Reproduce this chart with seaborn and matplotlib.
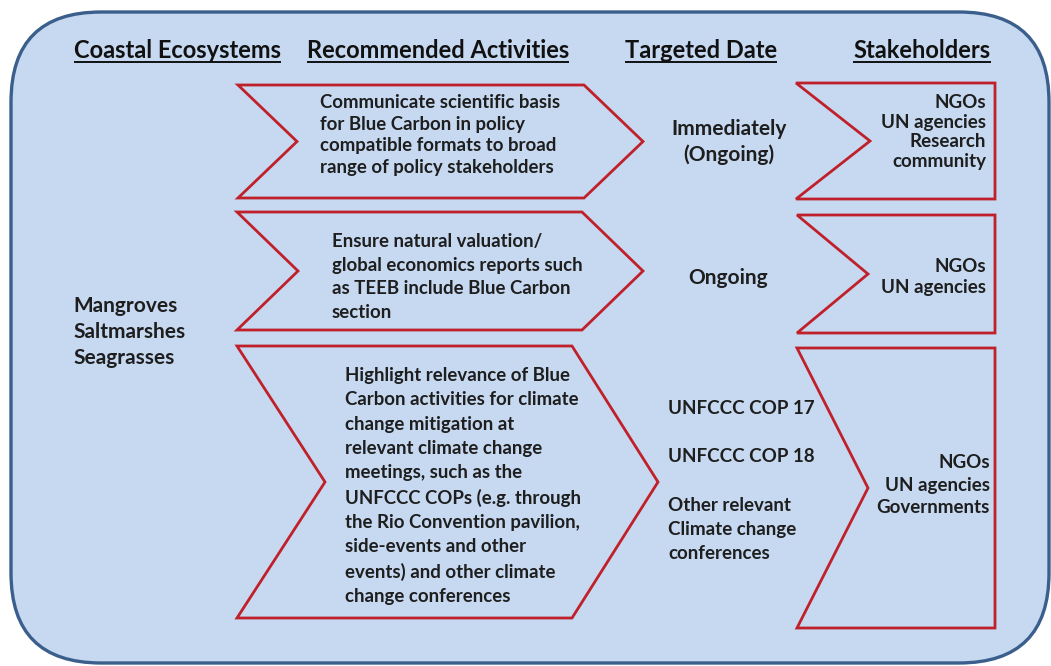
import matplotlib
matplotlib.use("Agg")
import matplotlib.pyplot as plt
import seaborn as sns
from matplotlib.patches import FancyBboxPatch, Polygon

# Text content of the diagram
headers = ["Coastal Ecosystems", "Recommended Activities", "Targeted Date", "Stakeholders"]
ecosystems = ["Mangroves", "Saltmarshes", "Seagrasses"]
activities = [
    ["Communicate scientific basis", "for Blue Carbon in policy",
     "compatible formats to broad", "range of policy stakeholders"],
    ["Ensure natural valuation/", "global economics reports such",
     "as TEEB include Blue Carbon", "section"],
    ["Highlight relevance of Blue", "Carbon activities for climate",
     "change mitigation at", "relevant climate change",
     "meetings, such as the", "UNFCCC COPs (e.g. through",
     "the Rio Convention pavilion,", "side-events and other",
     "events) and other climate", "change conferences"],
]
dates = [
    ["Immediately", "(Ongoing)"],
    ["Ongoing"],
    ["UNFCCC COP 17", "", "UNFCCC COP 18", "", "Other relevant",
     "Climate change", "conferences"],
]
stakeholders = [
    ["NGOs", "UN agencies", "Research", "community"],
    ["NGOs", "UN agencies"],
    ["NGOs", "UN agencies", "Governments"],
]

# Layout (pixel coordinates, y downwards)
header_x = [177, 438, 701, 922]
header_y = 50
act_rows = [  # top, bottom, left, notch, right corner, tip
    (85, 198, 238, 297, 584, 643),
    (212, 330, 237, 298, 582, 643),
    (346, 618, 237, 325, 572, 658),
]
act_text = [(320, 135, 1.32), (332, 277, 1.46), (345, 486, 1.51)]
stake_rows = [  # top, bottom, left, notch, right
    (83, 199, 796, 870, 995),
    (215, 333, 797, 868, 995),
    (348, 628, 797, 868, 995),
]
stake_text = [(986, 132, 1.17), (986, 277, 1.29), (990, 485, 1.41)]
date_text = [(729, 142, "center", 15, 1.38), (728, 278, "center", 15, 1.3),
             (668, 481, "left", 13.5, 1.52)]

sns.set_theme(style="white")
plt.rcParams["font.family"] = ["Lato", "DejaVu Sans"]

fill = "#c6d9f1"
edge_blue = "#3b5f8c"
red = "#c0202a"
ink = "#1e1e1e"

fig = plt.figure(figsize=(10.51, 6.66), dpi=100)
ax = fig.add_axes([0, 0, 1, 1])
ax.set_xlim(0, 1051)
ax.set_ylim(666, 0)
ax.axis("off")

ax.add_patch(FancyBboxPatch((11, 12), 1038, 651,
                            boxstyle="round,pad=0,rounding_size=90",
                            fc=fill, ec=edge_blue, lw=2.4, zorder=1))

for top, bot, xl, notch, xr, tip in act_rows:
    mid = (top + bot) / 2
    pts = [(xl, top), (xr, top), (tip, mid), (xr, bot), (xl, bot), (notch, mid)]
    ax.add_patch(Polygon(pts, closed=True, fc="none", ec=red, lw=2.0,
                         joinstyle="miter", zorder=2))

for top, bot, xl, notch, xr in stake_rows:
    mid = (top + bot) / 2
    pts = [(xl, top), (xr, top), (xr, bot), (xl, bot), (notch, mid)]
    ax.add_patch(Polygon(pts, closed=True, fc="none", ec=red, lw=2.0,
                         joinstyle="miter", zorder=2))

# headers with underline
fig.canvas.draw()
renderer = fig.canvas.get_renderer()
inv = ax.transData.inverted()
for label, x in zip(headers, header_x):
    t = ax.text(x, header_y, label, ha="center", va="center", fontsize=17,
                fontweight="bold", color="#111111", zorder=3)
    bb = t.get_window_extent(renderer=renderer)
    (x0, _), (x1, _) = inv.transform([(bb.x0, bb.y0), (bb.x1, bb.y0)])
    ax.plot([x0, x1], [header_y + 12, header_y + 12], color="#111111", lw=1.4,
            solid_capstyle="butt", zorder=3)

ax.text(73, 332, "\n".join(ecosystems), ha="left", va="center", fontsize=15,
        fontweight="bold", color=ink, linespacing=1.38, zorder=3)

for lines, (x, y, ls) in zip(activities, act_text):
    ax.text(x, y, "\n".join(lines), ha="left", va="center", fontsize=13.4,
            fontweight="bold", color=ink, linespacing=ls, zorder=3)

for lines, (x, y, ha, fs, ls) in zip(dates, date_text):
    ax.text(x, y, "\n".join(lines), ha=ha, va="center", fontsize=fs,
            fontweight="bold", color=ink, linespacing=ls, multialignment=ha,
            zorder=3)

for lines, (x, y, ls) in zip(stakeholders, stake_text):
    ax.text(x, y, "\n".join(lines), ha="right", va="center", fontsize=13.5,
            fontweight="bold", color=ink, linespacing=ls,
            multialignment="right", zorder=3)

fig.savefig("out.png", dpi=100, facecolor="white")
